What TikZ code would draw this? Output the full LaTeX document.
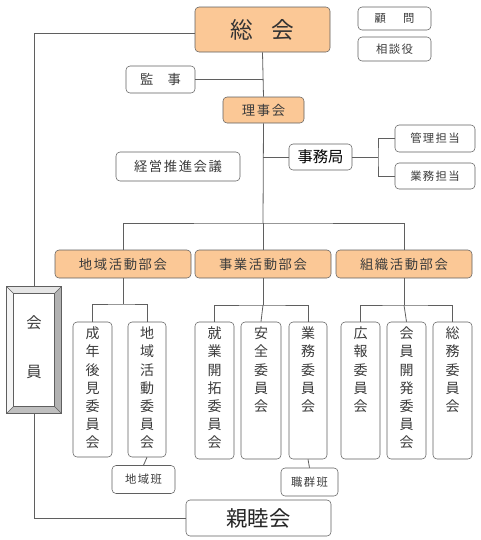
\documentclass[tikz,border=0pt]{standalone}
\usepackage{fontspec}
\usetikzlibrary{positioning,calc}
\newfontfamily\jp{Noto Sans CJK JP}
\newfontfamily\jpsp{Noto Sans CJK JP}[LetterSpace=12]
\definecolor{porange}{RGB}{251,200,150}
\definecolor{pline}{RGB}{95,95,95}
\definecolor{ptext}{RGB}{60,60,60}
\tikzset{
  sz/.style 2 args={minimum width=#1*0.75pt,minimum height=#2*0.75pt},
  box/.style={rectangle,rounded corners=3pt,draw=pline,fill=white,inner sep=0pt,
              text=ptext,font=\jpsp\fontsize{10}{12}\selectfont},
  obox/.style={box,fill=porange},
  small/.style={font=\jpsp\fontsize{8.5}{10}\selectfont},
  tatetxt/.style={anchor=north,yshift=-3.8pt,inner sep=0pt,align=center,
                  text=ptext,font=\jp\fontsize{10.5}{13.6}\selectfont},
  link/.style={draw=pline,line width=0.6pt},
}

\begin{document}
\begin{tikzpicture}[x=0.75pt,y=-0.75pt]
  \useasboundingbox (0,0) rectangle (480,540);
  % top
  \node[obox,sz={135}{45},text=black!80,font=\jp\fontsize{17}{20}\selectfont] (soukai) at (262.5,29.5) {総\hspace{14pt}会};
  \node[box,sz={73}{23},font=\jp\fontsize{8.5}{10}\selectfont] (komon) at (394.5,18.5) {顧\hspace{13pt}問};
  \node[box,small,sz={73}{24}] (soudan) at (394.5,49) {相談役};
  \node[box,sz={69}{27},font=\jp\fontsize{10}{12}\selectfont] (kanji) at (160.5,79.5) {監\hspace{10.5pt}事};
  \node[obox,sz={81}{26}] (rijikai) at (263.5,110) {理事会};
  \node[box,sz={63}{26},text=black,font=\jp\fontsize{11.5}{13}\selectfont] (jimu) at (320.5,157) {事務局};
  \node[box,small,sz={80}{27}] (kanri) at (435,138.5) {管理担当};
  \node[box,small,sz={80}{26}] (gyomu) at (435,176) {業務担当};
  \node[box,sz={124}{29}] (keiei) at (178,166.5) {経営推進会議};
  % bukai
  \node[obox,sz={136}{28}] (b1) at (123,264) {地域活動部会};
  \node[obox,sz={136}{28}] (b2) at (263,264) {事業活動部会};
  \node[obox,sz={136}{28}] (b3) at (404,264) {組織活動部会};
  % committees
  \node[box,sz={39}{135}] (c1) at (92.5,389.5) {};
  \node[tatetxt] (c1t) at (c1.north) {成\\年\\後\\見\\委\\員\\会};
  \node[box,sz={38}{135}] (c2) at (147,389.5) {};
  \node[tatetxt] (c2t) at (c2.north) {地\\域\\活\\動\\委\\員\\会};
  \node[box,sz={39}{137}] (c3) at (214.5,390.5) {};
  \node[tatetxt] (c3t) at (c3.north) {就\\業\\開\\拓\\委\\員\\会};
  \node[box,sz={40}{137}] (c4) at (261,390.5) {};
  \node[tatetxt] (c4t) at (c4.north) {安\\全\\委\\員\\会};
  \node[box,sz={38}{137}] (c5) at (308,390.5) {};
  \node[tatetxt] (c5t) at (c5.north) {業\\務\\委\\員\\会};
  \node[box,sz={39}{137}] (c6) at (360.5,390.5) {};
  \node[tatetxt] (c6t) at (c6.north) {広\\報\\委\\員\\会};
  \node[box,sz={39}{137}] (c7) at (406.5,390.5) {};
  \node[tatetxt] (c7t) at (c7.north) {会\\員\\開\\発\\委\\員\\会};
  \node[box,sz={39}{137}] (c8) at (452.5,390.5) {};
  \node[tatetxt] (c8t) at (c8.north) {総\\務\\委\\員\\会};
  \node[box,small,sz={63}{28}] (chiiki) at (143.5,479.5) {地域班};
  \node[box,small,sz={57}{28}] (shoku) at (309.5,482) {職群班};
  \node[box,sz={145}{36},text=black!85,font=\jp\fontsize{16}{18}\selectfont] (shinboku) at (258.5,518) {親睦会};
  % kaiin frame
  \node[sz={54}{126},inner sep=0pt] (kaiin) at (34,350) {};
  \coordinate (k1) at ([shift={(5.25pt,-5.25pt)}]kaiin.north west);
  \coordinate (k2) at ([shift={(-5.25pt,-5.25pt)}]kaiin.north east);
  \coordinate (k3) at ([shift={(-5.25pt,5.25pt)}]kaiin.south east);
  \coordinate (k4) at ([shift={(5.25pt,5.25pt)}]kaiin.south west);
  \fill[gray!20] (kaiin.north west) -- (kaiin.north east) -- (k2) -- (k1) -- cycle;
  \fill[gray!8] (kaiin.north west) -- (k1) -- (k4) -- (kaiin.south west) -- cycle;
  \fill[gray!60] (kaiin.north east) -- (kaiin.south east) -- (k3) -- (k2) -- cycle;
  \fill[gray!50] (kaiin.south west) -- (kaiin.south east) -- (k3) -- (k4) -- cycle;
  \draw[pline,line width=0.6pt] (kaiin.north west) rectangle (kaiin.south east);
  \draw[pline,line width=0.6pt] (k1) rectangle (k3);
  \draw[pline,line width=0.4pt] (kaiin.north west) -- (k1) (kaiin.north east) -- (k2)
    (kaiin.south east) -- (k3) (kaiin.south west) -- (k4);
  \node[text=ptext,font=\jp\fontsize{11.5}{13}\selectfont] (kai) at (34,323) {会};
  \node[text=ptext,font=\jp\fontsize{11.5}{13}\selectfont] (in) at (34,372) {員};
  % junctions
  \coordinate (bus) at (263,223);
  \coordinate (jk) at (378,157);
  \coordinate (j1) at (123,304);
  \coordinate (j2) at (263,305);
  \coordinate (j3) at (404,305);
  % links
  \draw[link] ([yshift=-3pt]soukai.west) -| (kaiin.north);
  \draw[link] (soukai.south) -- (rijikai.north);
  \draw[link] (kanji.east) -- (kanji.east -| soukai.south);
  \draw[link] (rijikai.south) -- (bus);
  \draw[link] (jimu.west) -- (jimu.west -| bus);
  \draw[link] (jimu.east) -- (jk);
  \draw[link] (kanri.west) -| (jk) |- (gyomu.west);
  \draw[link] (b1.north) |- (bus) -| (b3.north);
  \draw[link] (bus) -- (b2.north);
  \draw[link] (b1.south) -- (j1);
  \draw[link] (c1.north) |- (j1) -| (c2.north);
  \draw[link] (b2.south) -- (j2);
  \draw[link] (c3.north) |- (j2) -| (c5.north);
  \draw[link] (j2) -- (c4.north);
  \draw[link] (b3.south) -- (j3);
  \draw[link] (c6.north) |- (j3) -| (c8.north);
  \draw[link] (j3) -- (c7.north);
  \draw[link] (c2.south) -- (chiiki.north);
  \draw[link] (c5.south) -- (shoku.north);
  \draw[link] (kaiin.south) |- (shinboku.west);
\end{tikzpicture}
\end{document}
